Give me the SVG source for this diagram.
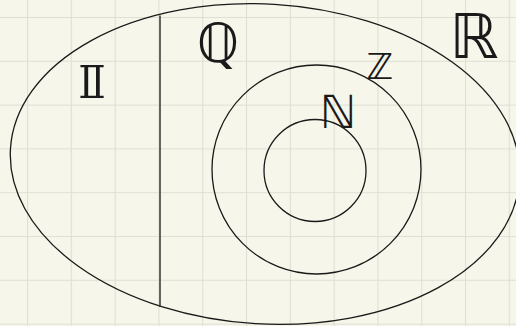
<svg xmlns="http://www.w3.org/2000/svg" width="516" height="326" viewBox="0 0 516 326">
<defs>
<pattern id="grid" x="27" y="17" width="43.8" height="43.8" patternUnits="userSpaceOnUse">
<path d="M0 0V43.8M0 0H43.8" fill="none" stroke="#dfdfd3" stroke-width="2.2"/>
</pattern>
</defs>
<style>
.ln{fill:none;stroke:#1a1a1a;stroke-width:1.3}
.lb{font-family:"DejaVu Sans",sans-serif;fill:#1a1a1a;text-anchor:middle}
</style>
<rect width="516" height="326" fill="#f7f6ea"/>
<rect width="516" height="326" fill="url(#grid)"/>
<g id="R">
<ellipse class="ln" cx="265" cy="164" rx="255" ry="160" transform="rotate(3.4 265 164)"/>
<text class="lb" x="474" y="58" font-size="62">ℝ</text>
</g>
<g id="divider">
<line x1="160" y1="15.5" x2="160" y2="307" stroke="#333" stroke-width="1.5"/>
</g>
<g id="I">
<text class="lb" x="0" y="98" font-size="44" transform="translate(92 0) scale(1.8 1)">𝕀</text>
</g>
<g id="Q">
<text class="lb" x="218" y="62" font-size="54">ℚ</text>
</g>
<g id="Z">
<circle class="ln" cx="316.5" cy="169.5" r="104.5"/>
<text class="lb" x="380" y="79" font-size="36">ℤ</text>
</g>
<g id="N">
<circle class="ln" cx="315" cy="170.5" r="51"/>
<text class="lb" x="338" y="128" font-size="46">ℕ</text>
</g>
<g id="connectors"/>
</svg>
